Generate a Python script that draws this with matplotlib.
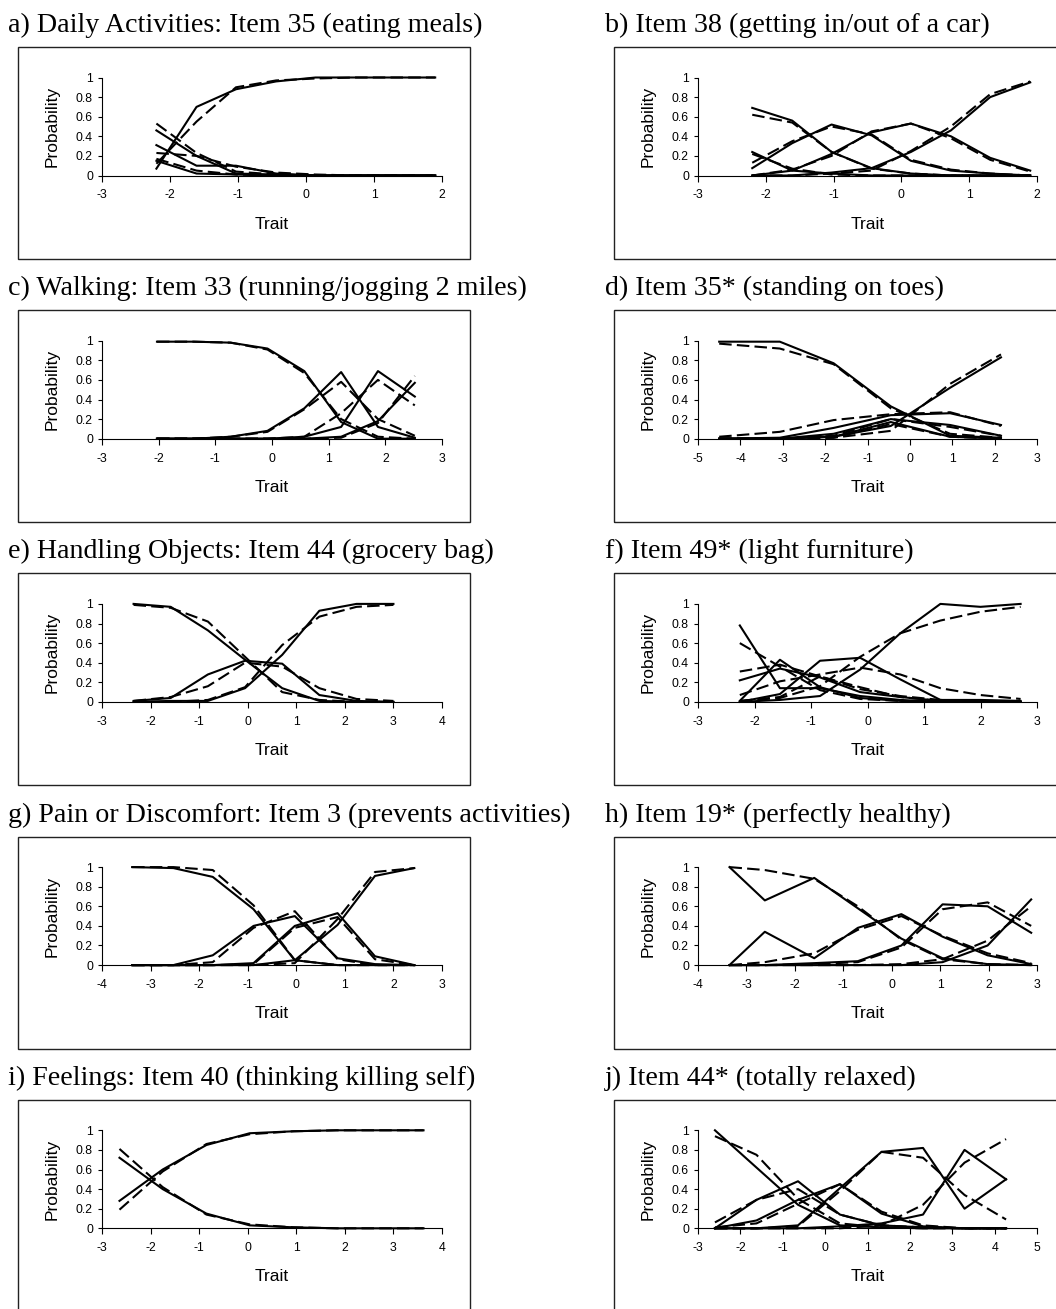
import matplotlib
matplotlib.use("Agg")
import matplotlib.pyplot as plt
from matplotlib.patches import Rectangle
from matplotlib.ticker import FuncFormatter

titles = ["a) Daily Activities: Item 35 (eating meals)",
          "b) Item 38 (getting in/out of a car)",
          "c) Walking: Item 33 (running/jogging 2 miles)",
          "d) Item 35* (standing on toes)",
          "e) Handling Objects: Item 44 (grocery bag)",
          "f) Item 49* (light furniture)",
          "g) Pain or Discomfort: Item 3 (prevents activities)",
          "h) Item 19* (perfectly healthy)",
          "i) Feelings: Item 40 (thinking killing self)",
          "j) Item 44* (totally relaxed)"]

xlims = [(-3, 2), (-3, 2), (-3, 3), (-5, 3), (-3, 4),
         (-3, 3), (-4, 3), (-4, 3), (-3, 4), (-3, 5)]

a_x = [-2.2, -1.61, -1.03, -0.44, 0.14, 0.73, 1.31, 1.9]
a_obs = [[0.15, 0.02, 0.01, 0.0, 0.0, 0.0, 0.0, 0.0],
         [0.31, 0.10, 0.10, 0.02, 0.0, 0.0, 0.0, 0.0],
         [0.46, 0.20, 0.02, 0.01, 0.0, 0.0, 0.0, 0.0],
         [0.07, 0.70, 0.88, 0.96, 1.0, 1.0, 1.0, 1.0]]
a_exp = [[0.17, 0.05, 0.01, 0.0, 0.0, 0.0, 0.0, 0.0],
         [0.23, 0.20, 0.09, 0.03, 0.01, 0.0, 0.0, 0.0],
         [0.53, 0.23, 0.04, 0.01, 0.0, 0.0, 0.0, 0.0],
         [0.12, 0.55, 0.90, 0.97, 0.99, 1.0, 1.0, 1.0]]

b_x = [-2.2, -1.61, -1.03, -0.44, 0.14, 0.73, 1.31, 1.9]
b_obs = [[0.24, 0.05, 0.02, 0.0, 0.0, 0.0, 0.0, 0.0],
         [0.69, 0.56, 0.24, 0.075, 0.02, 0.0, 0.0, 0.0],
         [0.075, 0.33, 0.52, 0.41, 0.15, 0.05, 0.02, 0.0],
         [0.0, 0.05, 0.22, 0.44, 0.53, 0.40, 0.18, 0.05],
         [0.0, 0.0, 0.03, 0.075, 0.24, 0.46, 0.80, 0.95]]
b_exp = [[0.22, 0.07, 0.01, 0.0, 0.0, 0.0, 0.0, 0.0],
         [0.62, 0.54, 0.24, 0.07, 0.02, 0.0, 0.0, 0.0],
         [0.13, 0.35, 0.50, 0.42, 0.16, 0.06, 0.02, 0.0],
         [0.0, 0.06, 0.20, 0.45, 0.53, 0.38, 0.16, 0.04],
         [0.0, 0.0, 0.02, 0.05, 0.25, 0.50, 0.83, 0.96]]

c_x = [-2.03, -1.38, -0.73, -0.08, 0.57, 1.22, 1.87, 2.52]
c_obs = [[0.99, 0.99, 0.98, 0.92, 0.69, 0.17, 0.0, 0.0],
         [0.0, 0.0, 0.02, 0.08, 0.31, 0.68, 0.12, 0.01],
         [0.0, 0.0, 0.0, 0.0, 0.02, 0.12, 0.69, 0.43],
         [0.0, 0.0, 0.0, 0.0, 0.0, 0.02, 0.18, 0.57]]
c_exp = [[0.99, 0.99, 0.98, 0.91, 0.67, 0.20, 0.02, 0.0],
         [0.0, 0.0, 0.02, 0.07, 0.30, 0.58, 0.20, 0.03],
         [0.0, 0.0, 0.0, 0.0, 0.02, 0.26, 0.60, 0.34],
         [0.0, 0.0, 0.0, 0.0, 0.0, 0.01, 0.16, 0.64]]

d_x = [-4.5, -3.07, -1.8, -0.45, 0.95, 2.15]
d_obs = [[0.99, 0.99, 0.77, 0.33, 0.03, 0.01],
         [0.0, 0.0, 0.02, 0.17, 0.02, 0.0],
         [0.0, 0.0, 0.05, 0.20, 0.14, 0.03],
         [0.0, 0.01, 0.11, 0.24, 0.26, 0.14],
         [0.0, 0.0, 0.02, 0.13, 0.52, 0.83]]
d_exp = [[0.97, 0.92, 0.76, 0.31, 0.05, 0.01],
         [0.0, 0.0, 0.01, 0.15, 0.02, 0.0],
         [0.0, 0.0, 0.03, 0.20, 0.12, 0.03],
         [0.02, 0.07, 0.19, 0.25, 0.27, 0.13],
         [0.0, 0.0, 0.01, 0.08, 0.56, 0.86]]

e_x = [-2.35, -1.585, -0.82, -0.055, 0.71, 1.475, 2.24, 3.0]
e_obs = [[1.0, 0.97, 0.73, 0.43, 0.14, 0.01, 0.0, 0.0],
         [0.01, 0.04, 0.28, 0.42, 0.39, 0.07, 0.01, 0.0],
         [0.0, 0.01, 0.01, 0.14, 0.48, 0.93, 1.0, 1.0]]
e_exp = [[0.99, 0.96, 0.82, 0.46, 0.10, 0.02, 0.0, 0.0],
         [0.01, 0.05, 0.16, 0.40, 0.36, 0.14, 0.03, 0.01],
         [0.0, 0.0, 0.02, 0.15, 0.58, 0.87, 0.97, 0.99]]

f_x = [-2.26, -1.55, -0.84, -0.13, 0.58, 1.29, 2.0, 2.71]
f_obs = [[0.78, 0.14, 0.14, 0.06, 0.02, 0.0, 0.0, 0.0],
         [0.22, 0.34, 0.25, 0.10, 0.05, 0.01, 0.0, 0.0],
         [0.01, 0.43, 0.15, 0.04, 0.01, 0.0, 0.0, 0.0],
         [0.0, 0.08, 0.42, 0.45, 0.23, 0.02, 0.02, 0.01],
         [0.0, 0.02, 0.06, 0.33, 0.70, 1.0, 0.97, 1.0]]
f_exp = [[0.60, 0.36, 0.12, 0.03, 0.01, 0.0, 0.0, 0.0],
         [0.31, 0.38, 0.26, 0.13, 0.06, 0.02, 0.01, 0.0],
         [0.01, 0.05, 0.26, 0.15, 0.05, 0.01, 0.0, 0.0],
         [0.07, 0.21, 0.28, 0.35, 0.28, 0.14, 0.07, 0.03],
         [0.01, 0.04, 0.16, 0.46, 0.70, 0.83, 0.92, 0.97]]

g_x = [-3.38, -2.53, -1.72, -0.88, -0.03, 0.85, 1.62, 2.43]
g_obs = [[1.0, 0.99, 0.90, 0.57, 0.05, 0.0, 0.0, 0.0],
         [0.0, 0.0, 0.10, 0.40, 0.50, 0.07, 0.01, 0.0],
         [0.0, 0.0, 0.0, 0.02, 0.40, 0.53, 0.09, 0.0],
         [0.0, 0.0, 0.0, 0.0, 0.05, 0.41, 0.91, 0.99]]
g_exp = [[1.0, 1.0, 0.97, 0.61, 0.05, 0.0, 0.0, 0.0],
         [0.0, 0.0, 0.03, 0.38, 0.55, 0.06, 0.0, 0.0],
         [0.0, 0.0, 0.0, 0.01, 0.38, 0.49, 0.06, 0.0],
         [0.0, 0.0, 0.0, 0.0, 0.02, 0.47, 0.95, 0.99]]

h_x = [-3.35, -2.62, -1.6, -0.7, 0.2, 1.05, 1.98, 2.88]
h_obs = [[1.0, 0.66, 0.89, 0.58, 0.27, 0.07, 0.01, 0.0],
         [0.0, 0.34, 0.07, 0.38, 0.52, 0.29, 0.10, 0.01],
         [0.0, 0.0, 0.02, 0.04, 0.20, 0.62, 0.60, 0.33],
         [0.0, 0.0, 0.0, 0.0, 0.0, 0.03, 0.20, 0.67]]
h_exp = [[1.0, 0.97, 0.88, 0.60, 0.26, 0.06, 0.01, 0.0],
         [0.0, 0.03, 0.12, 0.36, 0.50, 0.30, 0.12, 0.02],
         [0.0, 0.0, 0.01, 0.03, 0.18, 0.57, 0.64, 0.40],
         [0.0, 0.0, 0.0, 0.0, 0.01, 0.06, 0.25, 0.60]]

i_x = [-2.64, -1.75, -0.85, 0.04, 0.94, 1.83, 2.73, 3.62]
i_obs = [[0.72, 0.40, 0.15, 0.03, 0.01, 0.0, 0.0, 0.0],
         [0.28, 0.60, 0.85, 0.97, 0.99, 1.0, 1.0, 1.0]]
i_exp = [[0.81, 0.42, 0.14, 0.04, 0.01, 0.0, 0.0, 0.0],
         [0.19, 0.58, 0.86, 0.96, 0.99, 1.0, 1.0, 1.0]]

j_x = [-2.6, -1.62, -0.64, 0.35, 1.33, 2.31, 3.29, 4.27]
j_obs = [[1.0, 0.62, 0.24, 0.03, 0.01, 0.0, 0.0, 0.0],
         [0.0, 0.29, 0.48, 0.14, 0.03, 0.01, 0.0, 0.0],
         [0.0, 0.08, 0.29, 0.45, 0.15, 0.02, 0.0, 0.0],
         [0.0, 0.0, 0.03, 0.41, 0.78, 0.82, 0.20, 0.50],
         [0.0, 0.0, 0.0, 0.02, 0.05, 0.14, 0.80, 0.50]]
j_exp = [[0.94, 0.75, 0.30, 0.05, 0.01, 0.0, 0.0, 0.0],
         [0.06, 0.29, 0.40, 0.14, 0.03, 0.01, 0.0, 0.0],
         [0.01, 0.05, 0.25, 0.45, 0.17, 0.03, 0.0, 0.0],
         [0.0, 0.0, 0.02, 0.38, 0.78, 0.72, 0.34, 0.09],
         [0.0, 0.0, 0.0, 0.0, 0.03, 0.24, 0.67, 0.91]]

xs = [a_x, b_x, c_x, d_x, e_x, f_x, g_x, h_x, i_x, j_x]
observed = [a_obs, b_obs, c_obs, d_obs, e_obs, f_obs, g_obs, h_obs, i_obs, j_obs]
expected = [a_exp, b_exp, c_exp, d_exp, e_exp, f_exp, g_exp, h_exp, i_exp, j_exp]

# ---- layout (pixels)
plt.rcParams['font.family'] = ['Liberation Sans', 'DejaVu Sans']
plt.rcParams['axes.unicode_minus'] = False

W, H = 1056, 1309
fig = plt.figure(figsize=(W / 100, H / 100), dpi=100)


def rect(l, t, r, b):
    return [l / W, 1 - b / H, (r - l) / W, (b - t) / H]


fmt = FuncFormatter(lambda v, p: "%g" % round(v, 2))

for k in range(10):
    row, col = divmod(k, 2)
    top = 47 + 263.2 * row
    if col == 0:
        box_l, box_r, ax_l, ax_r, tx = 18, 470, 102, 442, 8
    else:
        box_l, box_r, ax_l, ax_r, tx = 614, 1080, 698, 1037, 605

    fig.patches.append(Rectangle((box_l / W, 1 - (top + 212) / H), (box_r - box_l) / W, 212 / H,
                                 transform=fig.transFigure, fill=False, lw=1.0, ec='#222222'))
    fig.text(tx / W, 1 - (top - 15) / H, titles[k], family='Liberation Serif',
             fontsize=20.2, va='baseline', ha='left')

    ax = fig.add_axes(rect(ax_l, top + 30.5, ax_r, top + 128.5))
    for y in observed[k]:
        ax.plot(xs[k], y, color='black', lw=1.5, clip_on=False)
    for y in expected[k]:
        ax.plot(xs[k], y, color='black', lw=1.5, ls=(0, (6, 2.5)), clip_on=False)

    x0, x1 = xlims[k]
    ax.set_xlim(x0, x1)
    ax.set_ylim(0, 1)
    ax.set_xticks(range(x0, x1 + 1))
    ax.set_yticks([0, 0.2, 0.4, 0.6, 0.8, 1])
    ax.xaxis.set_major_formatter(fmt)
    ax.yaxis.set_major_formatter(fmt)
    for s in ['top', 'right']:
        ax.spines[s].set_visible(False)
    for s in ['left', 'bottom']:
        ax.spines[s].set_linewidth(0.8)
    ax.patch.set_visible(False)
    ax.tick_params(axis='x', direction='out', length=4.5, width=0.8, pad=5.5, labelsize=8.8)
    ax.tick_params(axis='y', direction='out', length=3, width=0.8, pad=3.5, labelsize=8.8)
    ax.set_xlabel('Trait', fontsize=12.5)
    ax.set_ylabel('Probability', fontsize=12.5)
    ax.xaxis.set_label_coords(0.5, -0.42)
    ax.yaxis.set_label_coords(-0.125, 0.5)

fig.savefig('out.png', dpi=100)
